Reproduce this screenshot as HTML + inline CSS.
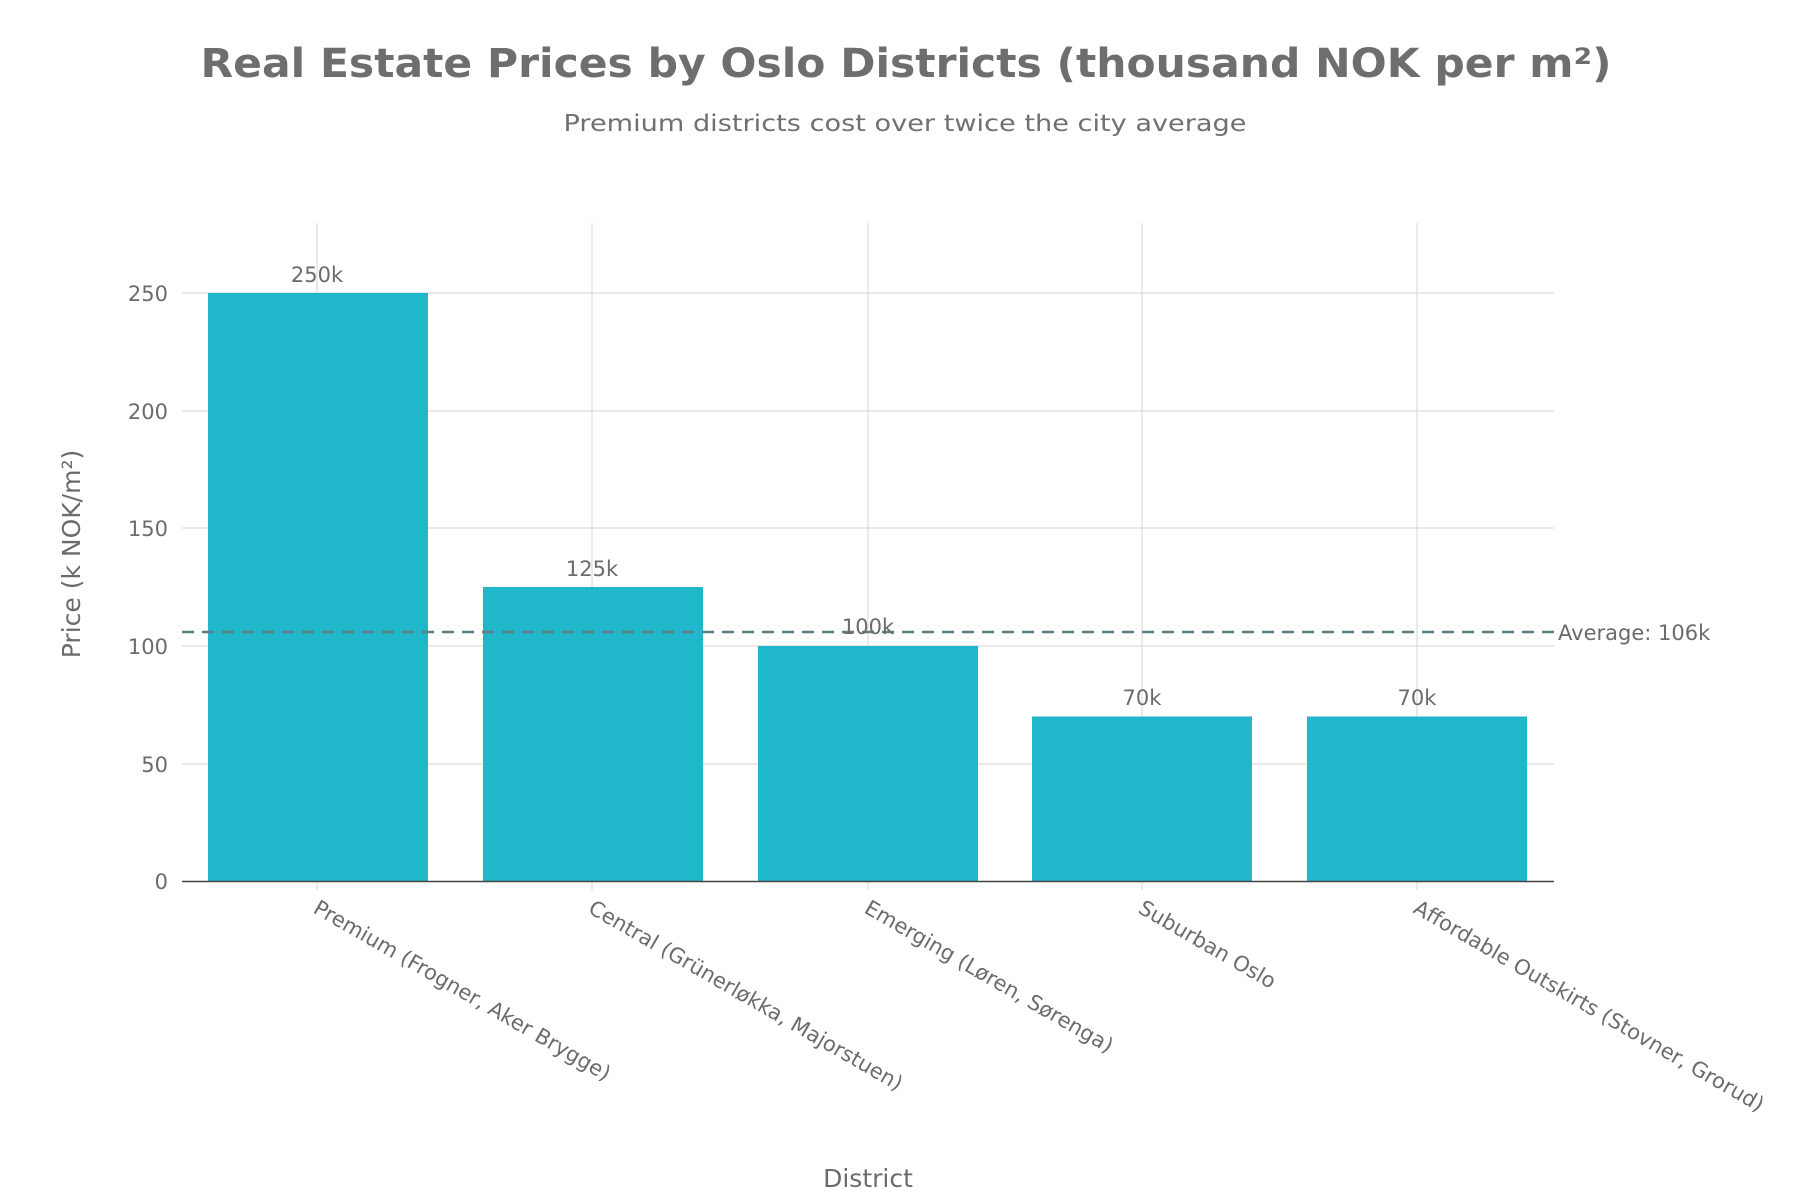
<!DOCTYPE html>
<html><head><meta charset="utf-8"><style>body{margin:0;background:#fff}svg{display:block}</style></head><body>
<svg width="1800" height="1200" viewBox="0 0 1800 1200" xmlns="http://www.w3.org/2000/svg" font-family="DejaVu Sans, Liberation Sans, sans-serif" fill="#6b6b6b">
<text x="906" y="77" text-anchor="middle" font-size="40" font-weight="bold" fill="#6e6e6e" textLength="1411" lengthAdjust="spacingAndGlyphs">Real Estate Prices by Oslo Districts (thousand NOK per m²)</text>
<text x="905" y="131" text-anchor="middle" font-size="23" fill="#707070" textLength="683" lengthAdjust="spacingAndGlyphs">Premium districts cost over twice the city average</text>
<g stroke="#dcdcdc" stroke-width="1.2">
<line x1="182" x2="1554" y1="293" y2="293"/><line x1="182" x2="1554" y1="411" y2="411"/><line x1="182" x2="1554" y1="528" y2="528"/><line x1="182" x2="1554" y1="646" y2="646"/><line x1="182" x2="1554" y1="764" y2="764"/>
<line x1="317" x2="317" y1="223" y2="890"/><line x1="592" x2="592" y1="223" y2="890"/><line x1="868" x2="868" y1="223" y2="890"/><line x1="1142" x2="1142" y1="223" y2="890"/><line x1="1417" x2="1417" y1="223" y2="890"/>
</g>
<g fill="#21b7cb">
<rect x="208" y="293" width="220" height="588.5"/>
<rect x="483" y="587" width="220" height="294.5"/>
<rect x="758" y="646" width="220" height="235.5"/>
<rect x="1032" y="716.5" width="220" height="165"/>
<rect x="1307" y="716.5" width="220" height="165"/>
</g>
<line x1="182" x2="1554" y1="881.5" y2="881.5" stroke="#444" stroke-width="1.5"/>
<line x1="182" x2="1554" y1="632" y2="632" stroke="#5f7f86" stroke-width="2.5" stroke-dasharray="12,8"/>
<text x="1558" y="640" font-size="21">Average: 106k</text>
<g font-size="21" text-anchor="middle">
<text x="317" y="282">250k</text><text x="592" y="576">125k</text><text x="868" y="634">100k</text><text x="1142" y="705">70k</text><text x="1417" y="705">70k</text>
</g>
<g font-size="21" text-anchor="end">
<text x="168" y="889">0</text><text x="168" y="772">50</text><text x="168" y="654">100</text><text x="168" y="536">150</text><text x="168" y="419">200</text><text x="168" y="301">250</text>
</g>
<g font-size="21">
<text transform="translate(312,912) rotate(30)">Premium (Frogner, Aker Brygge)</text>
<text transform="translate(587,912) rotate(30)">Central (Grünerløkka, Majorstuen)</text>
<text transform="translate(863,912) rotate(30)">Emerging (Løren, Sørenga)</text>
<text transform="translate(1137,912) rotate(30)">Suburban Oslo</text>
<text transform="translate(1412,912) rotate(30)">Affordable Outskirts (Stovner, Grorud)</text>
</g>
<text x="868" y="1187" text-anchor="middle" font-size="25">District</text>
<text transform="translate(80,554) rotate(-90)" text-anchor="middle" font-size="25">Price (k NOK/m²)</text>
</svg>
</body></html>
